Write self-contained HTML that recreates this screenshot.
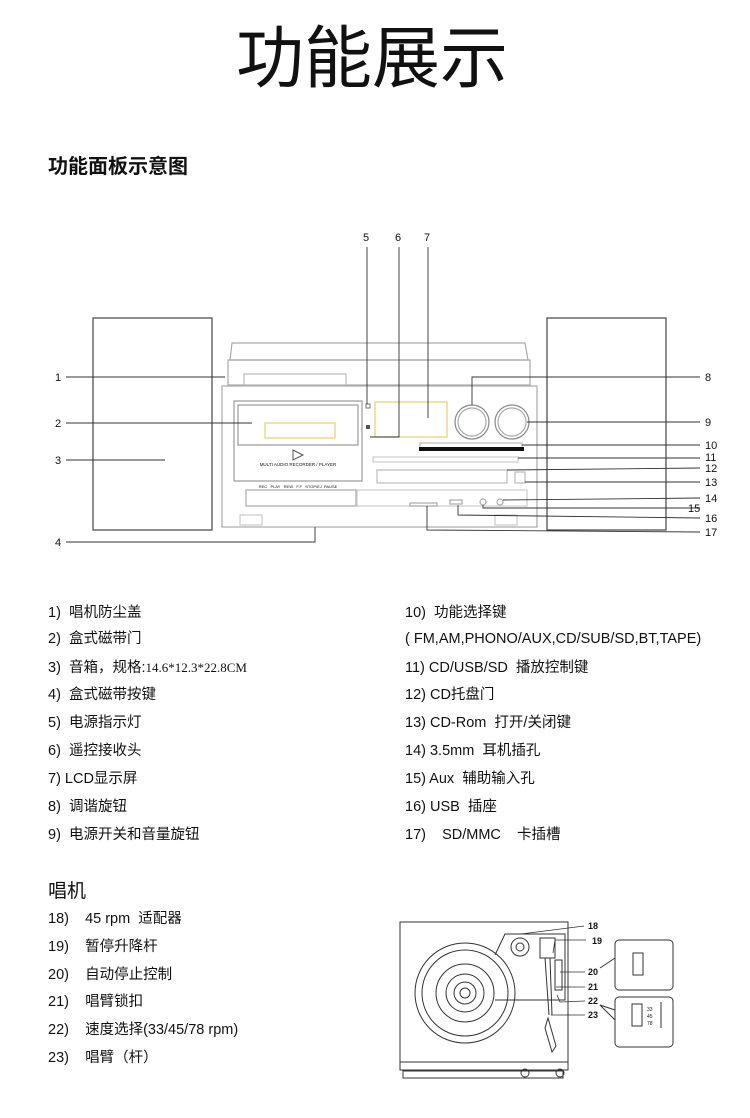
<!DOCTYPE html>
<html><head><meta charset="utf-8"><style>
html,body{margin:0;padding:0;background:#fff;}
svg{display:block;}
text{font-family:"Liberation Sans","Noto Sans CJK SC",sans-serif;fill:#111;white-space:pre;}
</style></head><body>
<svg width="750" height="1118" viewBox="0 0 750 1118" xmlns="http://www.w3.org/2000/svg" xml:space="preserve">
<text x="372" y="82" font-size="68" text-anchor="middle" font-family="'Noto Sans CJK SC',sans-serif">功能展示</text>
<text x="48" y="173" font-size="20" font-weight="bold">功能面板示意图</text>

<g fill="none" stroke="#444" stroke-width="1.2">
<rect x="93" y="318" width="119" height="212"/>
<rect x="547" y="318" width="119" height="212"/>
<path d="M230 360 L232 343 L525 343 L528 360 Z" stroke="#aaa"/>
<rect x="228" y="360" width="302" height="25" stroke="#aaa"/>
<rect x="244" y="374" width="102" height="11" stroke="#bbb"/>
<rect x="222" y="386" width="315" height="141" stroke="#aaa"/>
<rect x="234" y="401" width="128" height="80" stroke="#999"/>
<rect x="238" y="405" width="120" height="40" stroke="#999"/>
<rect x="265" y="423" width="70" height="15" stroke="#e6d070"/>
<rect x="375" y="402" width="72" height="35" stroke="#e6d070"/>
<circle cx="472" cy="422" r="17" stroke="#888"/>
<circle cx="472" cy="422" r="14" stroke="#aaa"/>
<circle cx="512" cy="422" r="17" stroke="#888"/>
<circle cx="512" cy="422" r="14" stroke="#aaa"/>
<rect x="420" y="443" width="102" height="6" stroke="#bbb"/>
<rect x="373" y="457" width="145" height="5" stroke="#ccc"/>
<rect x="377" y="470" width="130" height="13" stroke="#bbb"/>
<rect x="515" y="472" width="10" height="11" stroke="#bbb"/>
<rect x="246" y="490" width="110" height="16" stroke="#aaa"/>
<rect x="357" y="490" width="170" height="16" stroke="#ccc"/>
<rect x="410" y="503" width="27" height="3" stroke="#aaa"/>
<rect x="450" y="500" width="12" height="4" stroke="#aaa"/>
<circle cx="483" cy="502" r="3" stroke="#aaa"/>
<circle cx="500" cy="502" r="3" stroke="#aaa"/>
<rect x="240" y="515" width="22" height="10" stroke="#ccc"/>
<rect x="495" y="515" width="22" height="10" stroke="#ccc"/>
</g>
<rect x="419" y="447" width="105" height="4" fill="#111"/>
<text x="298" y="466" font-size="4.5" text-anchor="middle">MULTI AUDIO RECORDER / PLAYER</text>
<path d="M293 450 L303 455 L293 460 Z" fill="none" stroke="#555"/>
<text x="298" y="488" font-size="4" text-anchor="middle">REC   PLAY   REW   F.F   STOP/EJ  PAUSE</text>
<rect x="366" y="404" width="4" height="4" fill="none" stroke="#555" stroke-width=".8"/>
<rect x="366" y="425" width="4" height="4" fill="#555"/>

<g stroke="#333" stroke-width="0.9" fill="none">
<line x1="66" y1="377" x2="225" y2="377"/>
<line x1="66" y1="423" x2="252" y2="423"/>
<line x1="66" y1="460" x2="165" y2="460"/>
<polyline points="66,542 315,542 315,527"/>
<line x1="367" y1="247" x2="367" y2="404"/>
<polyline points="399,247 399,437 370,437"/>
<line x1="428" y1="247" x2="428" y2="418"/>
<polyline points="472,405 472,377 700,377"/>
<line x1="527" y1="422" x2="700" y2="422"/>
<line x1="522" y1="445" x2="700" y2="445"/>
<line x1="518" y1="458" x2="700" y2="458"/>
<line x1="507" y1="470" x2="700" y2="468"/>
<line x1="525" y1="482" x2="700" y2="482"/>
<line x1="503" y1="500" x2="700" y2="498"/>
<polyline points="483,505 483,508 700,508"/>
<polyline points="458,505 458,515 700,518"/>
<polyline points="427,506 427,530 700,532"/>
</g>
<g font-size="11">
<text x="55" y="381">1</text><text x="55" y="427">2</text><text x="55" y="464">3</text><text x="55" y="546">4</text>
<text x="363" y="241">5</text><text x="395" y="241">6</text><text x="424" y="241">7</text>
<text x="705" y="381">8</text><text x="705" y="426">9</text>
<text x="705" y="449">10</text><text x="705" y="461">11</text><text x="705" y="472">12</text>
<text x="705" y="486">13</text><text x="705" y="502">14</text><text x="688" y="512">15</text>
<text x="705" y="522">16</text><text x="705" y="536">17</text>
</g>

<g font-size="14.5">
<text x="48" y="617">1)  唱机防尘盖</text>
<text x="48" y="643">2)  盒式磁带门</text>
<text x="48" y="672">3)  音箱，规格:<tspan font-family="'Liberation Serif',serif" font-size="13">14.6*12.3*22.8CM</tspan></text>
<text x="48" y="699">4)  盒式磁带按键</text>
<text x="48" y="727">5)  电源指示灯</text>
<text x="48" y="755">6)  遥控接收头</text>
<text x="48" y="783">7) LCD显示屏</text>
<text x="48" y="811">8)  调谐旋钮</text>
<text x="48" y="839">9)  电源开关和音量旋钮</text>
<text x="405" y="617">10)  功能选择键</text>
<text x="405" y="643">( FM,AM,PHONO/AUX,CD/SUB/SD,BT,TAPE)</text>
<text x="405" y="672">11) CD/USB/SD  播放控制键</text>
<text x="405" y="699">12) CD托盘门</text>
<text x="405" y="727">13) CD-Rom  打开/关闭键</text>
<text x="405" y="755">14) 3.5mm  耳机插孔</text>
<text x="405" y="783">15) Aux  辅助输入孔</text>
<text x="405" y="811">16) USB  插座</text>
<text x="405" y="839">17)    SD/MMC    卡插槽</text>
<text x="48" y="897" font-size="19">唱机</text>
<text x="48" y="923">18)    45 rpm  适配器</text>
<text x="48" y="951">19)    暂停升降杆</text>
<text x="48" y="979">20)    自动停止控制</text>
<text x="48" y="1006">21)    唱臂锁扣</text>
<text x="48" y="1034">22)    速度选择(33/45/78 rpm)</text>
<text x="48" y="1062">23)    唱臂（杆）</text>
</g>

<g fill="none" stroke="#333" stroke-width="1">
<rect x="400" y="922" width="168" height="140"/>
<rect x="400" y="1062" width="168" height="8"/>
<rect x="403" y="1071" width="160" height="7"/>
<path d="M495 955 L505 934 L565 934 L565 1000 L495 1000"/>
<circle cx="465" cy="993" r="50"/>
<circle cx="465" cy="993" r="43"/>
<circle cx="465" cy="993" r="29"/>
<circle cx="465" cy="993" r="19"/>
<circle cx="465" cy="993" r="11"/>
<circle cx="465" cy="993" r="5"/>
<circle cx="520" cy="947" r="9"/>
<circle cx="520" cy="947" r="4"/>
<rect x="540" y="938" width="15" height="20"/>
<line x1="545" y1="958" x2="549" y2="1015"/>
<line x1="550" y1="958" x2="552" y2="1015"/>
<path d="M548 1018 L556 1046 L552 1052 L545 1028 Z"/>
<rect x="555" y="960" width="7" height="30"/>
<circle cx="525" cy="1073" r="4"/><circle cx="560" cy="1073" r="4"/>
<rect x="615" y="940" width="58" height="50" rx="4"/>
<rect x="615" y="997" width="58" height="50" rx="4"/>
<polyline points="615,958 600,968"/>
<polyline points="615,1010 600,1005 615,1020"/>
<rect x="633" y="953" width="10" height="22"/>
<rect x="632" y="1004" width="10" height="22"/>
<line x1="661" y1="1002" x2="661" y2="1028"/>
</g>
<g stroke="#333" stroke-width=".8" fill="none">
<line x1="521" y1="934" x2="584" y2="926"/>
<polyline points="553,953 555,940 586,940"/>
<line x1="560" y1="972" x2="585" y2="972"/>
<line x1="556" y1="987" x2="585" y2="987"/>
<polyline points="557,995 560,1002 585,1001"/>
<line x1="551" y1="1015" x2="585" y2="1015"/>
</g>
<g font-size="9" font-weight="bold">
<text x="588" y="929">18</text><text x="592" y="944">19</text><text x="588" y="975">20</text>
<text x="588" y="990">21</text><text x="588" y="1004">22</text><text x="588" y="1018">23</text>
</g>
<g font-size="5"><text x="647" y="1011">33</text><text x="647" y="1018">45</text><text x="647" y="1025">78</text></g>
</svg>
</body></html>
